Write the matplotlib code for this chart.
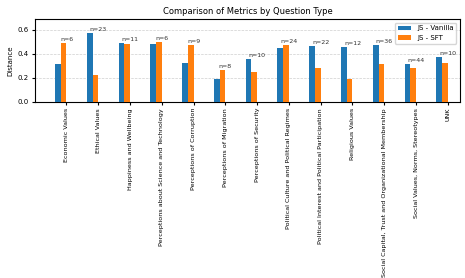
import numpy as np
import matplotlib
matplotlib.use('Agg')
import matplotlib.pyplot as plt

# Question types and metrics
categories = ['Economic Values', 'Ethical Values', 'Happiness and Wellbeing',
              'Perceptions about Science and Technology', 'Perceptions of Corruption',
              'Perceptions of Migration', 'Perceptions of Security',
              'Political Culture and Political Regimes',
              'Political Interest and Political Participation', 'Religious Values',
              'Social Capital, Trust and Organizational Membership',
              'Social Values, Norms, Stereotypes', 'UNK']
js_vanilla = [0.314, 0.572, 0.489, 0.480, 0.322, 0.189, 0.356, 0.447, 0.464, 0.456, 0.472, 0.314, 0.372]
js_sft = [0.490, 0.222, 0.480, 0.497, 0.472, 0.264, 0.247, 0.472, 0.281, 0.189, 0.314, 0.281, 0.322]
counts = [6, 23, 11, 6, 9, 8, 10, 24, 22, 12, 36, 44, 10]

x = np.arange(len(categories))
width = 0.18

fig, ax = plt.subplots(figsize=(4.65, 2.78), dpi=100)
fig.subplots_adjust(left=0.076, right=0.989, top=0.931, bottom=0.634)

ax.bar(x - 1.5 * width, js_vanilla, width, label='JS - Vanilla', color='#1f77b4', zorder=3)
ax.bar(x - 0.5 * width, js_sft, width, label='JS - SFT', color='#ff7f0e', zorder=3)

#n labels above the taller bar
for i in range(len(categories)):
    top = max(js_vanilla[i], js_sft[i])
    ax.text(x[i], top + 0.01, 'n=%d' % counts[i], ha='center', va='bottom', fontsize=4.5, color='#333333')

ax.set_xticks(x)
ax.set_xticklabels(categories, rotation=90, fontsize=4.6)
ax.tick_params(axis='y', labelsize=5, length=2.5, pad=2)
ax.tick_params(axis='x', length=2.5, pad=2)
ax.set_ylabel('Distance', fontsize=5, labelpad=3)
ax.set_title('Comparison of Metrics by Question Type', fontsize=6, pad=4)
ax.set_xlim(-0.98, 12.38)
ax.set_ylim(0, max(js_vanilla + js_sft) * 1.2)
ax.set_yticks([0.0, 0.2, 0.4, 0.6])
ax.yaxis.grid(True, linestyle='--', linewidth=0.5, alpha=0.6, zorder=0)
ax.legend(loc='upper right', fontsize=5)

plt.savefig('out.png', dpi=100)
